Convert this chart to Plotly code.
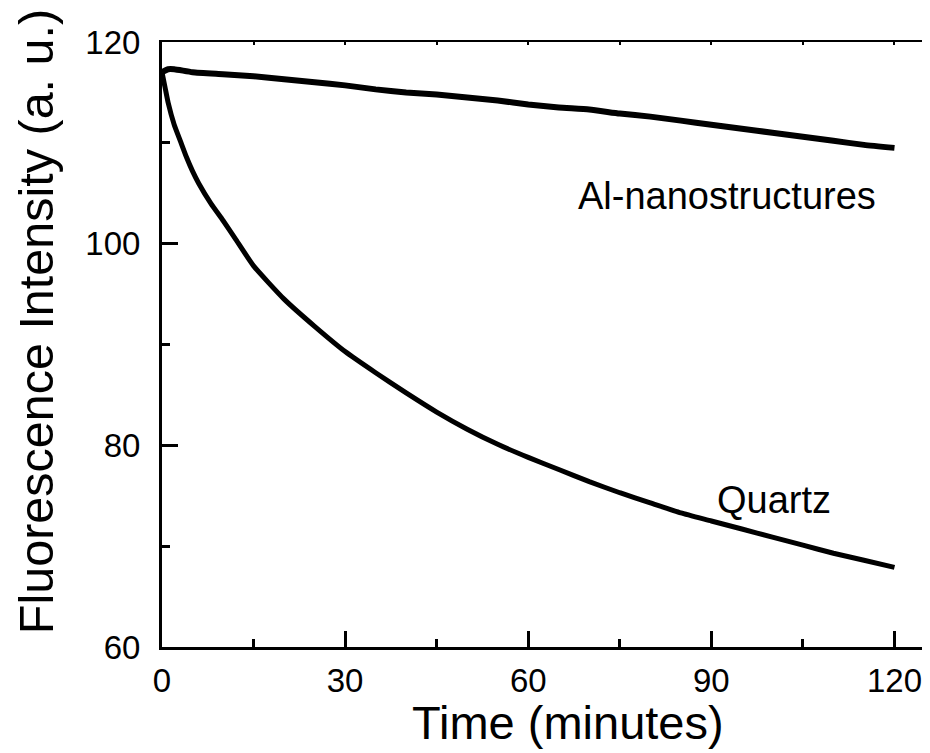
import plotly.graph_objects as go

# Values (band centre of each noisy trace)
time_quartz = [0, 0.5, 1, 2, 3, 4, 5, 6, 8, 10, 12, 15, 20, 25, 30, 35, 40, 45, 50,
               55, 60, 65, 70, 75, 80, 85, 90, 95, 100, 105, 110, 115, 120]
quartz = [117.0, 115.5, 114.0, 111.8, 110.2, 108.6, 107.2, 106.0, 104.0, 102.3, 100.5,
          97.8, 94.5, 91.8, 89.3, 87.2, 85.2, 83.3, 81.6, 80.1, 78.8, 77.6, 76.4, 75.3,
          74.3, 73.3, 72.5, 71.7, 70.9, 70.1, 69.3, 68.6, 67.9]

time_al = [0, 1, 2, 5, 10, 15, 20, 25, 30, 35, 40, 45, 50, 55, 60, 65, 70, 75, 80,
           85, 90, 95, 100, 105, 110, 115, 120]
al_nano = [117.0, 117.3, 117.3, 117.0, 116.8, 116.6, 116.3, 116.0, 115.7, 115.3, 115.0,
           114.8, 114.5, 114.2, 113.8, 113.5, 113.3, 112.9, 112.6, 112.2, 111.8, 111.4,
           111.0, 110.6, 110.2, 109.8, 109.5]

x_ticks = [0, 30, 60, 90, 120]
y_ticks = [60, 80, 100, 120]

FONT = "Liberation Sans, Arial, Helvetica, sans-serif"

fig = go.Figure()
fig.add_trace(go.Scatter(x=time_al, y=al_nano, mode="lines", name="Al-nanostructures",
                         line=dict(color="black", width=6, shape="spline", smoothing=0.5)))
fig.add_trace(go.Scatter(x=time_quartz, y=quartz, mode="lines", name="Quartz",
                         line=dict(color="black", width=5, shape="spline", smoothing=0.5)))
# invisible trace so the mirror axes (top/right) are drawn
fig.add_trace(go.Scatter(x=[0], y=[60], xaxis="x2", yaxis="y2", mode="markers",
                         marker=dict(opacity=0), showlegend=False, hoverinfo="skip"))

fig.update_layout(
    width=922, height=745,
    margin=dict(l=154, r=5, t=34, b=106, autoexpand=False),
    paper_bgcolor="white", plot_bgcolor="white",
    showlegend=False,
    font=dict(family=FONT, color="black"),
    xaxis=dict(range=[0, 125], tickvals=x_ticks, ticktext=[str(v) for v in x_ticks],
               ticks="inside", ticklen=16, tickwidth=2.5, tickcolor="black",
               minor=dict(tickvals=[15, 45, 75, 105], ticks="inside", ticklen=8,
                          tickwidth=2.5, tickcolor="black"),
               showline=True, linewidth=3, linecolor="black", showgrid=False,
               zeroline=False, tickfont=dict(size=33), ticklabelstandoff=2,
               automargin=False),
    yaxis=dict(range=[60, 120], tickvals=y_ticks, ticktext=[str(v) for v in y_ticks],
               ticks="inside", ticklen=16, tickwidth=2.5, tickcolor="black",
               minor=dict(tickvals=[70, 90, 110], ticks="inside", ticklen=8,
                          tickwidth=2.5, tickcolor="black"),
               showline=True, linewidth=3, linecolor="black", showgrid=False,
               zeroline=False, tickfont=dict(size=33), ticklabelstandoff=12,
               automargin=False),
    xaxis2=dict(overlaying="x", side="top", range=[0, 125],
                tickvals=[0, 15, 30, 45, 60, 75, 90, 105, 120],
                ticks="inside", ticklen=3, tickwidth=1.5, tickcolor="black",
                showticklabels=False, showline=True, linewidth=2, linecolor="black",
                showgrid=False, zeroline=False, automargin=False),
    yaxis2=dict(overlaying="y", side="right", range=[60, 120],
                tickvals=[60, 70, 80, 90, 100, 110, 120],
                ticks="inside", ticklen=3, tickwidth=1.5, tickcolor="black",
                showticklabels=False, showline=True, linewidth=2, linecolor="black",
                showgrid=False, zeroline=False, automargin=False),
    annotations=[
        dict(x=92.6, y=104.7, xref="x", yref="y", text="Al-nanostructures",
             showarrow=False, font=dict(size=38, family=FONT, color="black")),
        dict(x=100.2, y=74.6, xref="x", yref="y", text="Quartz",
             showarrow=False, font=dict(size=38, family=FONT, color="black")),
        dict(x=0.532, y=-0.124, xref="paper", yref="paper", text="Time (minutes)",
             showarrow=False, xanchor="center", yanchor="middle",
             font=dict(size=47, family=FONT, color="black")),
        dict(x=-0.165, y=0.537, xref="paper", yref="paper",
             text="Fluorescence Intensity (a. u.)", textangle=-90,
             showarrow=False, xanchor="center", yanchor="middle",
             font=dict(size=48.5, family=FONT, color="black")),
    ],
)

fig.write_html("out.html")
